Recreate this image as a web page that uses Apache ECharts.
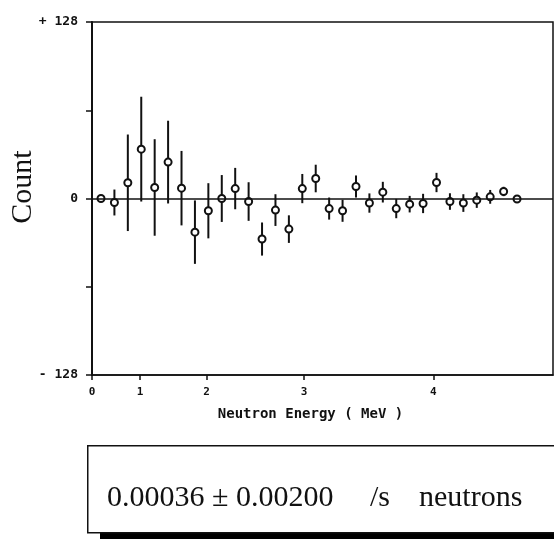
<!DOCTYPE html>
<html>
<head>
<meta charset="utf-8">
<script src="https://cdn.jsdelivr.net/npm/echarts@6/dist/echarts.min.js"></script>
<style>
html,body{margin:0;padding:0;background:#fff;}
#c{width:554px;height:539px;}
</style>
</head>
<body>
<div id="c"></div>
<script>
// Data: bin (channel) index, counts and error half-widths
const channels = [0,1,2,3,4,5,6,7,8,9,10,11,12,13,14,15,16,17,18,19,20,21,22,23,24,25,26,27,28,29,30,31];
const counts = [0,-2.9,11.4,35.8,8.0,26.4,7.5,-24.4,-8.9,0,7.2,-2.2,-29.4,-8.4,-22.2,7.2,14.5,-7.3,-8.9,8.7,-3.3,4.6,-7.3,-4.1,-3.6,11.6,-2.2,-3.3,-1.2,1.2,5.1,-0.4];
const errors = [0.8,9.4,35,38,35,30,27,23,20,17,15,14,12,11.5,10,10.6,10,8,8,8,7,7.5,7,6,7,7,6,6.4,5.6,5,3.4,0.8];
// Energy tick labels (MeV) and their channel positions (nonlinear calibration)
const energyTicks = [0,1,2,3,4];
const energyTickChannels = [-0.67,2.91,7.86,15.13,24.76];
// Result box text pieces
const resultValue = '0.00036 ± 0.00200';
const resultUnit = '/s';
const resultName = 'neutrons';

const ink = '#111';
const chart = echarts.init(document.getElementById('c'), null, {renderer:'canvas'});

const pts = channels.map((c,i)=>[c,counts[i]]);
const bars = channels.map((c,i)=>[c,counts[i]-errors[i],counts[i]+errors[i]]);

chart.setOption({
  backgroundColor:'#fff',
  animation:false,
  grid:{left:92,right:1,top:22,bottom:164,show:true,borderColor:ink,borderWidth:1.5},
  xAxis:{
    type:'value',min:-0.67,max:33.68,
    axisLine:{show:true,onZero:false,lineStyle:{color:ink,width:1.5}},
    axisTick:{show:true,inside:false,length:5,lineStyle:{color:ink,width:1.5},customValues:energyTickChannels},
    axisLabel:{show:true,margin:12,color:ink,fontFamily:'DejaVu Sans Mono',fontWeight:'bold',fontSize:11,
      customValues:energyTickChannels,
      formatter:function(v){const k=energyTickChannels.findIndex(t=>Math.abs(t-v)<1e-6);return k>=0?String(energyTicks[k]):'';}},
    splitLine:{show:false},
    name:'Neutron Energy ( MeV )',nameLocation:'middle',nameGap:32,
    nameTextStyle:{color:ink,fontFamily:'DejaVu Sans Mono',fontWeight:'bold',fontSize:14,padding:[0,24,0,0]}
  },
  yAxis:{
    type:'value',min:-128,max:128,interval:64,
    axisLine:{show:true,onZero:false,lineStyle:{color:ink,width:2}},
    axisTick:{show:true,inside:false,length:6,lineStyle:{color:ink,width:1.5}},
    axisLabel:{show:true,margin:14,color:ink,fontFamily:'DejaVu Sans Mono',fontWeight:'bold',fontSize:13,
      formatter:function(v){if(v===128)return '+ 128';if(v===-128)return '- 128';if(v===0)return '0';return '';}},
    splitLine:{show:false}
  },
  series:[
    {
      type:'custom',
      data:bars,
      encode:{x:0,y:[1,2]},
      renderItem:function(params,api){
        const a=api.coord([api.value(0),api.value(1)]);
        const b=api.coord([api.value(0),api.value(2)]);
        return {type:'line',shape:{x1:a[0],y1:a[1],x2:b[0],y2:b[1]},style:{stroke:ink,lineWidth:2}};
      },
      z:2
    },
    {
      type:'scatter',
      data:pts,
      symbol:'circle',symbolSize:7,
      itemStyle:{color:'#fff',borderColor:ink,borderWidth:2,opacity:1},
      markLine:{silent:true,symbol:'none',label:{show:false},lineStyle:{color:ink,width:1.5,type:'solid'},data:[{yAxis:0}]},
      z:3
    }
  ],
  graphic:[
    {type:'text',x:23,y:187,rotation:Math.PI/2,style:{text:'Count',fill:ink,font:'30px "Liberation Serif"',textAlign:'center',textVerticalAlign:'middle'},z:12},
    {type:'rect',left:100,top:531,shape:{width:460,height:8},style:{fill:'#000'},z:10},
    {type:'rect',left:87,top:445,shape:{width:470,height:87},style:{fill:'#fff',stroke:ink,lineWidth:1.5},z:11},
    {type:'text',x:107,y:498,style:{text:resultValue,fill:ink,font:'30px "Liberation Serif"',textVerticalAlign:'middle'},z:12},
    {type:'text',x:370,y:498,style:{text:resultUnit,fill:ink,font:'30px "Liberation Serif"',textVerticalAlign:'middle'},z:12},
    {type:'text',x:419,y:498,style:{text:resultName,fill:ink,font:'30px "Liberation Serif"',textVerticalAlign:'middle'},z:12}
  ]
});
</script>
</body>
</html>
